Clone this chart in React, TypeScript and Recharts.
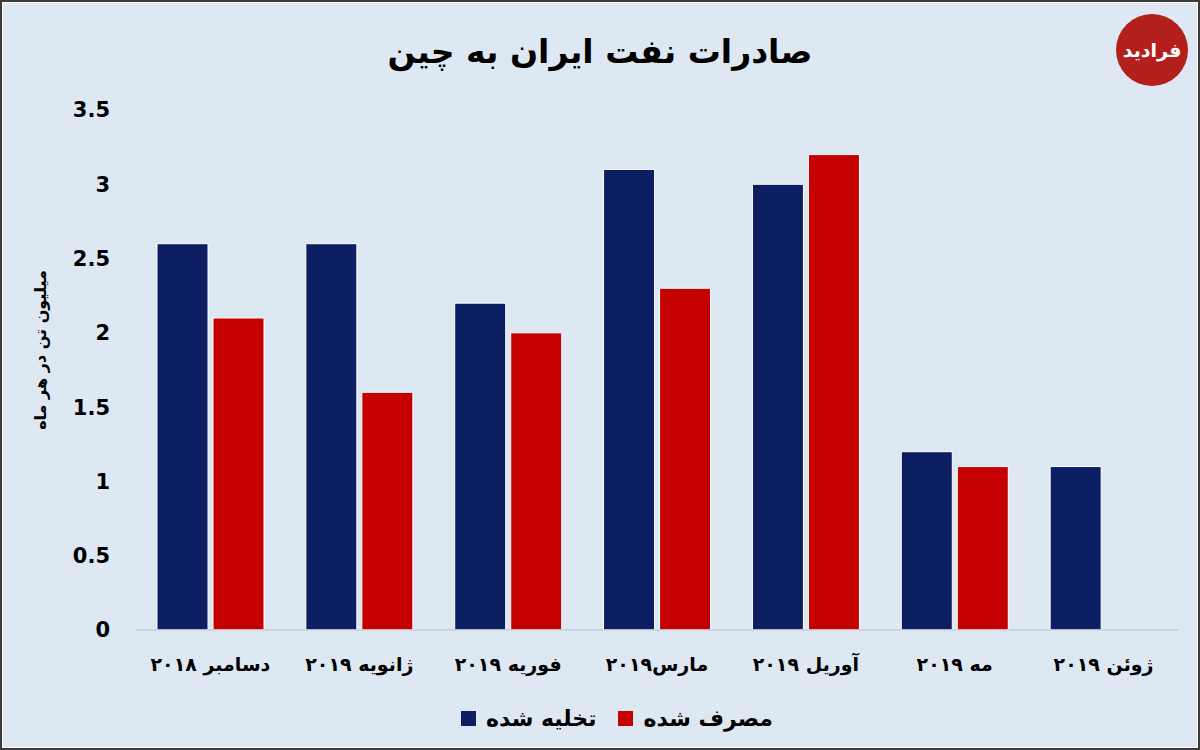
import React from 'react';
import { BarChart, Bar, XAxis, YAxis, Legend } from 'recharts';

const months = ['دسامبر ۲۰۱۸', 'ژانویه ۲۰۱۹', 'فوریه ۲۰۱۹', 'مارس۲۰۱۹', 'آوریل ۲۰۱۹', 'مه ۲۰۱۹', 'ژوئن ۲۰۱۹'];
const unloaded = [2.6, 2.6, 2.2, 3.1, 3.0, 1.2, 1.1];
const consumed: (number | null)[] = [2.1, 1.6, 2.0, 2.3, 3.2, 1.1, null];
const yTicks = [0, 0.5, 1, 1.5, 2, 2.5, 3, 3.5];

const seriesNames = { unloaded: 'تخلیه شده', consumed: 'مصرف شده' };
const title = 'صادرات نفت ایران به چین';
const yLabel = 'میلیون تن در هر ماه';

const BLUE = '#0b1f62';
const RED = '#c40000';
const BG = '#dde8f3';
const FONT = '"DejaVu Sans", "Noto Sans", sans-serif';

const data = months.map((m, i) => ({ month: m, unloaded: unloaded[i], consumed: consumed[i] }));

const LegendContent = () => (
  <div style={{ display: 'flex', justifyContent: 'center', alignItems: 'center', gap: 22, paddingTop: 6, fontFamily: FONT, fontWeight: 'bold', fontSize: 22, color: '#000' }}>
    <span style={{ display: 'inline-flex', alignItems: 'center', gap: 10 }}>
      <span style={{ width: 15, height: 15, background: BLUE, display: 'inline-block' }} />
      <span dir="rtl">{seriesNames.unloaded}</span>
    </span>
    <span style={{ display: 'inline-flex', alignItems: 'center', gap: 10 }}>
      <span style={{ width: 15, height: 15, background: RED, display: 'inline-block' }} />
      <span dir="rtl">{seriesNames.consumed}</span>
    </span>
  </div>
);

export default function App() {
  return (
    <div style={{ position: 'absolute', left: 0, top: 0, width: 1200, height: 750, background: BG, overflow: 'hidden' }}>
      <div
        dir="rtl"
        style={{ position: 'absolute', left: 0, top: 30, width: 1200, textAlign: 'center', fontFamily: FONT, fontWeight: 'bold', fontSize: 33, color: '#000', lineHeight: '44px' }}
      >
        {title}
      </div>
      <div
        style={{ position: 'absolute', left: 1116, top: 14, width: 72, height: 72, borderRadius: '50%', background: '#b3201c', color: '#fff', fontFamily: FONT, fontWeight: 'bold', fontSize: 19, display: 'flex', alignItems: 'center', justifyContent: 'center' }}
        dir="rtl"
      >
        فرادید
      </div>
      <div style={{ position: 'absolute', left: 0, top: 0 }}>
        <BarChart width={1200} height={750} data={data} margin={{ top: 110, right: 22, bottom: 10, left: 56 }} barSize={51} barGap={5}>
          <XAxis
            dataKey="month"
            height={70}
            axisLine={{ stroke: '#c3cfdc', strokeWidth: 1.5 }}
            tickLine={false}
            tickMargin={22}
            interval={0}
            tick={{ fill: '#000', fontSize: 19, fontWeight: 'bold', fontFamily: FONT }}
          />
          <YAxis
            width={80}
            domain={[0, 3.5]}
            ticks={yTicks}
            axisLine={false}
            tickLine={false}
            tickSize={0}
            tickMargin={26}
            tick={{ fill: '#000', fontSize: 21, fontWeight: 'bold', fontFamily: FONT }}
            label={{
              content: () => (
                <text
                  x={40}
                  y={350}
                  transform="rotate(-90 40 350)"
                  textAnchor="middle"
                  dominantBaseline="central"
                  fontFamily={FONT}
                  fontWeight="bold"
                  fontSize={16}
                  fill="#000"
                >
                  {yLabel}
                </text>
              ),
            }}
          />
          <Legend verticalAlign="bottom" height={40} content={LegendContent} />
          <Bar dataKey="unloaded" name={seriesNames.unloaded} fill={BLUE} stroke="#ffffff" strokeWidth={1} isAnimationActive={false} />
          <Bar dataKey="consumed" name={seriesNames.consumed} fill={RED} stroke="#ffffff" strokeWidth={1} isAnimationActive={false} />
        </BarChart>
      </div>
      <div style={{ position: 'absolute', left: 0, top: 0, width: 1200, height: 750, boxSizing: 'border-box', border: '2px solid #3a3a3a', boxShadow: 'inset 0 0 0 1px #ffffff', pointerEvents: 'none' }} />
    </div>
  );
}
